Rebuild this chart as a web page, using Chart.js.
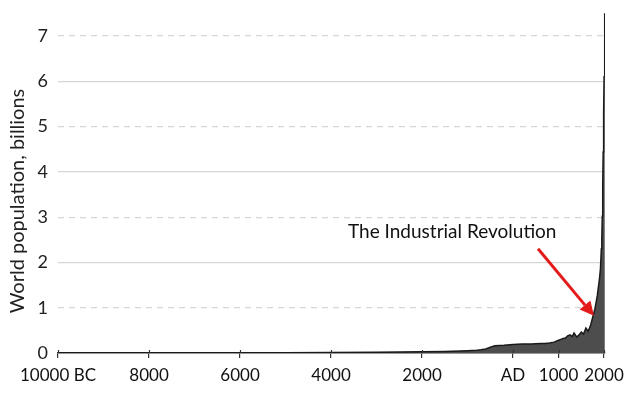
<!DOCTYPE html>
<html><head><meta charset="utf-8">
<script src="https://cdn.jsdelivr.net/npm/chart.js@4"></script>
<style>html,body{margin:0;padding:0;background:#fff}#wrap{width:635px;height:399px}</style>
</head><body><div id="wrap"><canvas id="c" width="635" height="399"></canvas></div>
<script>
// Year (negative = BC) and world population in billions
const years = [-10000,-9000,-8000,-7000,-6000,-5000,-4000,-3000,-2000,-1500,-1000,-800,-700,-600,-500,-400,-200,0,200,400,500,600,700,800,900,1000,1050,1100,1150,1200,1250,1300,1340,1400,1450,1500,1550,1600,1650,1700,1750,1800,1850,1900,1920,1940,1950,1960,1970,1980,1990,2000,2010,2017];
const population = [0.004,0.005,0.005,0.006,0.007,0.008,0.010,0.015,0.027,0.035,0.050,0.060,0.070,0.090,0.130,0.160,0.170,0.190,0.200,0.200,0.205,0.210,0.210,0.220,0.240,0.280,0.300,0.320,0.330,0.380,0.400,0.360,0.440,0.350,0.400,0.460,0.420,0.550,0.480,0.600,0.790,0.980,1.260,1.650,1.860,2.300,2.520,3.020,3.700,4.440,5.300,6.100,6.900,7.500];
const xTickValues = [-10000,-8000,-6000,-4000,-2000,0,1000,2000];
const xTickLabels = ['10000 BC','8000','6000','4000','2000','AD','1000','2000'];
const yTickValues = [0,1,2,3,4,5,6,7];
const yAxisTitle = 'World population, billions';
const annotationText = 'The Industrial Revolution';
const annotationTextAt = {x: -3627, y: 2.67};
const arrowFrom = {x: 548, y: 2.30};
const arrowTo = {x: 1778, y: 0.82};

const FONT = 'Lato, "Open Sans", sans-serif';

const overlay = {
  id: 'overlay',
  afterDraw(chart) {
    const ctx = chart.ctx, xs = chart.scales.x, ys = chart.scales.y;
    // tick marks poking above the x axis
    ctx.save();
    ctx.strokeStyle = '#333';
    ctx.lineWidth = 1.2;
    const y0 = ys.getPixelForValue(0);
    xTickValues.forEach(v => {
      const px = Math.round(xs.getPixelForValue(v)) + 0.5;
      ctx.beginPath();
      ctx.moveTo(px, y0 - 3);
      ctx.lineTo(px, y0);
      ctx.stroke();
    });
    ctx.restore();

    ctx.save();
    ctx.translate(18, 201);
    ctx.rotate(-Math.PI / 2);
    ctx.font = '20px ' + FONT;
    ctx.fillStyle = '#222';
    ctx.textAlign = 'center';
    ctx.textBaseline = 'middle';
    ctx.fillText(yAxisTitle, 0, 0);
    ctx.restore();

    ctx.save();
    ctx.font = '19px ' + FONT;
    ctx.fillStyle = '#111';
    ctx.textAlign = 'left';
    ctx.textBaseline = 'middle';
    ctx.fillText(annotationText, xs.getPixelForValue(annotationTextAt.x), ys.getPixelForValue(annotationTextAt.y));

    const x1 = xs.getPixelForValue(arrowFrom.x), y1 = ys.getPixelForValue(arrowFrom.y);
    const x2 = xs.getPixelForValue(arrowTo.x), y2 = ys.getPixelForValue(arrowTo.y);
    const ang = Math.atan2(y2 - y1, x2 - x1);
    const head = 14, hw = 7;
    const bx = x2 - head * Math.cos(ang), by = y2 - head * Math.sin(ang);
    ctx.strokeStyle = '#e31b1b';
    ctx.fillStyle = '#e31b1b';
    ctx.lineWidth = 3;
    ctx.beginPath();
    ctx.moveTo(x1, y1);
    ctx.lineTo(bx, by);
    ctx.stroke();
    ctx.beginPath();
    ctx.moveTo(x2, y2);
    ctx.lineTo(bx + hw * Math.sin(ang), by - hw * Math.cos(ang));
    ctx.lineTo(bx - hw * Math.sin(ang), by + hw * Math.cos(ang));
    ctx.closePath();
    ctx.fill();
    ctx.restore();
  }
};

new Chart(document.getElementById('c'), {
  type: 'line',
  data: {
    datasets: [{
      data: years.map((y, i) => ({x: y, y: population[i]})),
      fill: 'origin',
      backgroundColor: '#4d4d4d',
      borderColor: '#1a1a1a',
      borderWidth: 1.5,
      pointRadius: 0,
      tension: 0
    }]
  },
  options: {
    responsive: false,
    animation: false,
    devicePixelRatio: 1,
    layout: {padding: {top: 11, right: 30, left: 0, bottom: 0}},
    plugins: {legend: {display: false}, tooltip: {enabled: false}},
    scales: {
      x: {
        type: 'linear',
        min: -10000,
        max: 2020,
        afterBuildTicks: (s) => { s.ticks = xTickValues.map(v => ({value: v})); },
        afterFit: (s) => { s.height = 46; s.paddingLeft = 0; s.paddingRight = 0; },
        ticks: {
          autoSkip: false, maxRotation: 0, minRotation: 0,
          padding: 7,
          color: '#111',
          font: {family: FONT, size: 17},
          callback: (v) => { const i = xTickValues.indexOf(v); return i >= 0 ? xTickLabels[i] : ''; }
        },
        grid: {display: true, drawOnChartArea: false, drawTicks: true, tickLength: 5, color: '#333', lineWidth: 1.2},
        border: {display: true, color: '#333', width: 1.5}
      },
      y: {
        min: 0,
        max: 7.55,
        afterBuildTicks: (s) => { s.ticks = yTickValues.map(v => ({value: v})); },
        afterFit: (s) => { s.width = 58; s.paddingTop = 0; s.paddingBottom = 0; },
        ticks: {
          padding: 10,
          color: '#222',
          font: {family: FONT, size: 18},
          callback: (v) => String(v)
        },
        grid: {
          drawTicks: false,
          lineWidth: 1.2,
          color: (c) => (c.tick && c.tick.value === 0) ? 'rgba(0,0,0,0)' : '#d6d6d6'
        },
        border: {
          display: false,
          dash: (c) => (c.tick && c.tick.value % 2 === 1) ? [6, 5] : []
        }
      }
    }
  },
  plugins: [overlay]
});
</script>
</body></html>
